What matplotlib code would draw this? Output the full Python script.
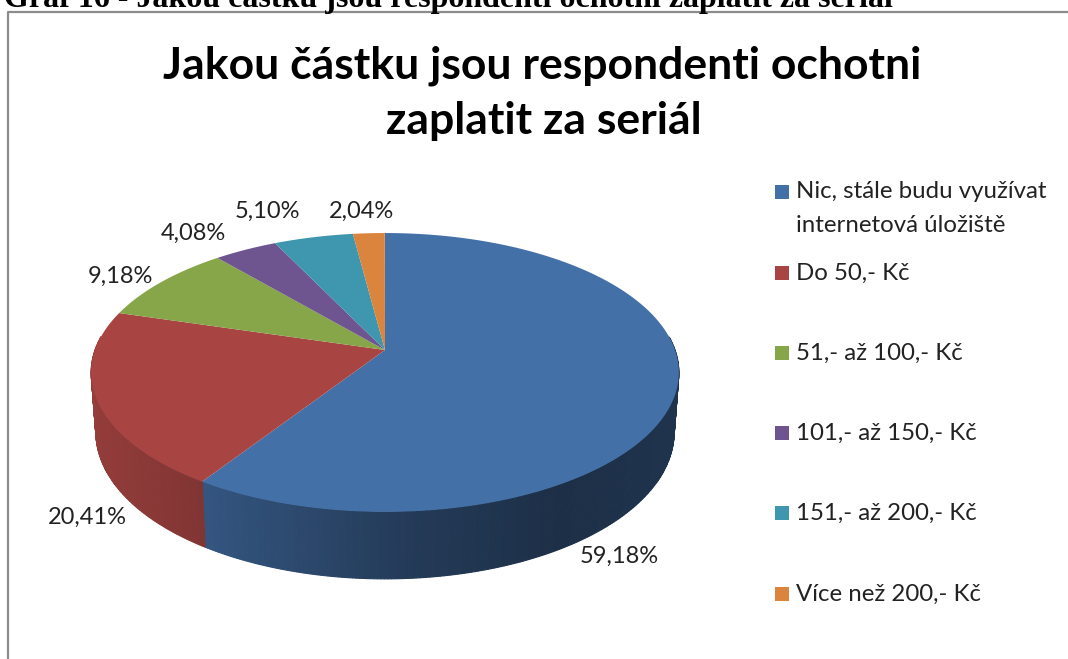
import numpy as np
import matplotlib
matplotlib.use("Agg")
import matplotlib.pyplot as plt
from matplotlib.patches import Rectangle
from matplotlib.colors import to_rgb

plt.rcParams['font.family'] = ['Lato', 'DejaVu Sans']

# ---------- DATA ----------

labels = [
    "Nic, stále budu využívat\ninternetová úložiště",
    "Do 50,- Kč",
    "51,- až 100,- Kč",
    "101,- až 150,- Kč",
    "151,- až 200,- Kč",
    "Více než 200,- Kč",
]
values = [59.18, 20.41, 9.18, 4.08, 5.10, 2.04]
value_labels = ["59,18%", "20,41%", "9,18%", "4,08%", "5,10%", "2,04%"]
colors = ["#4470A8", "#A84543", "#87A549", "#6E558F", "#3E96AF", "#DB843D"]

W, H = 1068, 659

# ---------- PERSPECTIVE PIE HELPERS ----------

cx, cy = 385, 350
A, B, k = 290, 135.8, 0.161


def rim(theta):
    # theta in radians, clockwise from the top of the pie
    X, Y = np.sin(theta), np.cos(theta)
    w = 1 + k * Y
    return cx + A * X / w, cy - B * Y / w


def rim_bottom(theta):
    x, y = rim(theta)
    return cx + (x - cx) * 0.984, y + 58 - 9 * np.cos(theta)


def wall_shade(x):
    # lightest at the left of the pie, darkest right of the middle
    return np.interp(x, [91, 205, 400, 560, 679], [0.88, 0.76, 0.53, 0.42, 0.46])


# ---------- FIGURE ----------

fig = plt.figure(figsize=(W / 100, H / 100), dpi=100)
ax = fig.add_axes([0, 0, 1, 1])
ax.set_xlim(0, W)
ax.set_ylim(H, 0)
ax.axis("off")

# chart frame, cut off by the page at the bottom and right
ax.plot([7.5, 7.5, 1068], [659, 12, 12], color="#8c8c8c", lw=1.6)

ax.text(4, 7, "Graf 16 - Jakou částku jsou respondenti ochotni zaplatit za seriál",
        family="Liberation Serif", fontsize=23, fontweight="bold",
        ha="left", va="baseline", color="black")

ax.text(542, 66, "Jakou částku jsou respondenti ochotni", fontsize=32,
        fontweight="bold", ha="center", va="center", color="black")
ax.text(544, 121, "zaplatit za seriál", fontsize=32,
        fontweight="bold", ha="center", va="center", color="black")

# ---------- PIE ----------

edges = np.radians(np.cumsum([0] + values) * 3.6)

# side wall first, the top face then covers whatever is behind it
for i, color in enumerate(colors):
    ts = np.linspace(edges[i], edges[i + 1], int(values[i] * 6) + 2)
    base = np.array(to_rgb(color))
    for t0, t1 in zip(ts[:-1], ts[1:]):
        if np.cos((t0 + t1) / 2) > 0.1:
            continue
        x0, y0 = rim(t0)
        x1, y1 = rim(t1)
        bx0, by0 = rim_bottom(t0)
        bx1, by1 = rim_bottom(t1)
        c = base * wall_shade((x0 + x1) / 2)
        ax.fill([x0, x1, bx1, bx0], [y0, y1, by1, by0],
                facecolor=c, edgecolor=c, lw=0.8, zorder=1)

for i, color in enumerate(colors):
    ts = np.linspace(edges[i], edges[i + 1], 200)
    xs, ys = rim(ts)
    ax.fill(np.r_[cx, xs], np.r_[cy, ys], facecolor=color, edgecolor="none", zorder=2)

# ---------- VALUE LABELS ----------

label_pos = [(619, 556), (87, 517), (120, 276), (193, 233), (267, 211), (361, 211)]
for (x, y), text in zip(label_pos, value_labels):
    ax.text(x, y, text, fontsize=17, ha="center", va="center",
            color="#222222", zorder=3)

# ---------- LEGEND ----------

legend_y = [192, 273, 353, 433, 513, 594]
for name, color, y in zip(labels, colors, legend_y):
    ax.add_patch(Rectangle((775, y - 7), 14, 14, facecolor=color, edgecolor="none", zorder=3))
    for j, line in enumerate(name.split("\n")):
        ax.text(796, y + j * 33, line, fontsize=17.3, ha="left", va="center",
                color="#222222", zorder=3)

fig.savefig("out.png", dpi=100)
